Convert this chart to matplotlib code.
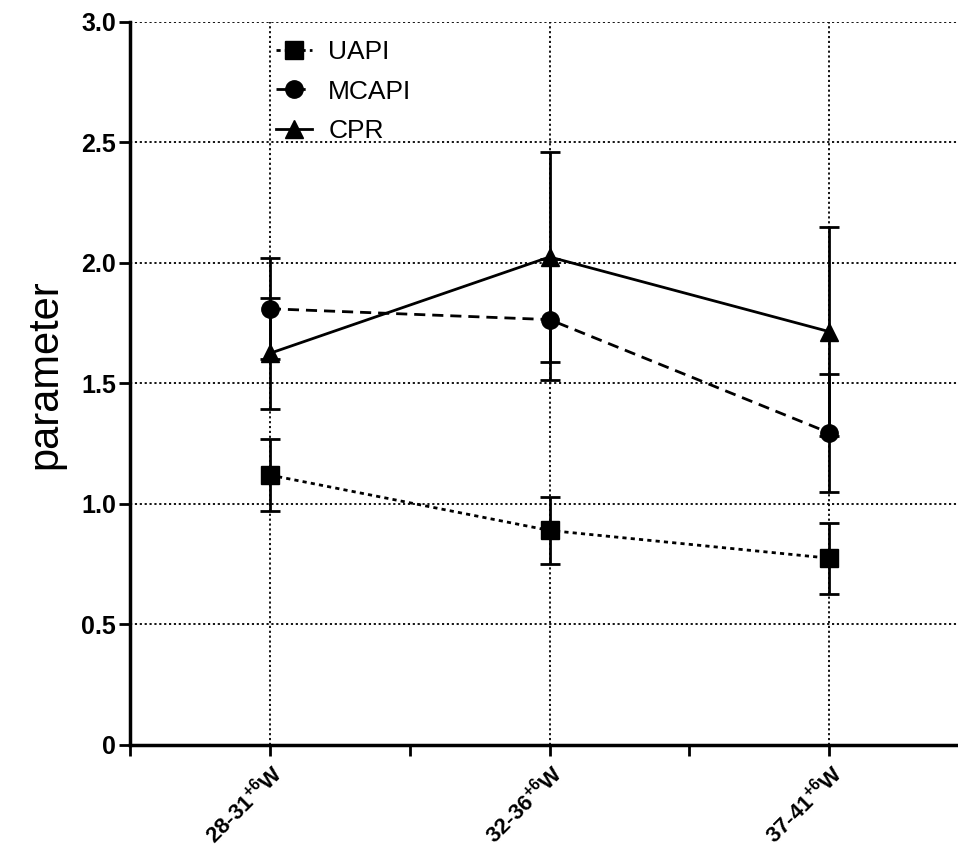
import matplotlib
matplotlib.use("Agg")
import matplotlib.pyplot as plt
from matplotlib.lines import Line2D
from matplotlib.ticker import FixedLocator

# ============================================================
# DATA
# ============================================================

groups = ["28-31", "32-36", "37-41"]
x_pos = [1, 2, 3]

uapi_mean = [1.12, 0.89, 0.775]
uapi_err = [0.148, 0.14, 0.148]

mcapi_mean = [1.81, 1.765, 1.295]
mcapi_err = [0.21, 0.25, 0.245]

cpr_mean = [1.625, 2.025, 1.715]
cpr_err = [0.23, 0.435, 0.435]

y_ticks = [0, 0.5, 1.0, 1.5, 2.0, 2.5, 3.0]
y_tick_labels = ["0", "0.5", "1.0", "1.5", "2.0", "2.5", "3.0"]

# ============================================================
# STYLE
# ============================================================

plt.rcParams["font.family"] = ["Liberation Sans", "DejaVu Sans"]
plt.rcParams["mathtext.fontset"] = "custom"
plt.rcParams["mathtext.rm"] = "Liberation Sans:bold"
plt.rcParams["mathtext.it"] = "Liberation Sans:bold"
plt.rcParams["mathtext.bf"] = "Liberation Sans:bold"

fig = plt.figure(figsize=(9.58, 8.55), dpi=100)
ax = fig.add_axes([0.1357, 0.1287, 0.8643, 0.8456])

lw = 2.0
ms = 12.5
styles = {
    "UAPI": ((0, (1.5, 1.5)), "s"),
    "MCAPI": ((0, (4, 2.5)), "o"),
    "CPR": ("-", "^"),
}
common = dict(color="black", linewidth=lw, elinewidth=lw, capsize=7.5,
              capthick=lw, markersize=ms, zorder=3)

ax.errorbar(x_pos, uapi_mean, yerr=uapi_err, linestyle=styles["UAPI"][0],
            marker=styles["UAPI"][1], **common)
ax.errorbar(x_pos, mcapi_mean, yerr=mcapi_err, linestyle=styles["MCAPI"][0],
            marker=styles["MCAPI"][1], **common)
ax.errorbar(x_pos, cpr_mean, yerr=cpr_err, linestyle=styles["CPR"][0],
            marker=styles["CPR"][1], **common)

# ============================================================
# AXES
# ============================================================

ax.set_xlim(0.5, 3.46)
ax.set_ylim(0, 3.0)

ax.set_yticks(y_ticks)
ax.set_yticklabels(y_tick_labels, fontsize=18, fontweight="bold")

ax.set_xticks(x_pos)
ax.set_xticklabels([g + r"$^{+6}$W" for g in groups], fontsize=16,
                   fontweight="bold", rotation=45, ha="right",
                   rotation_mode="anchor")
ax.xaxis.set_minor_locator(FixedLocator([0.5, 1.5, 2.5, 3.5]))

ax.tick_params(axis="both", which="both", direction="out", length=8,
               width=2, color="black")
ax.tick_params(axis="x", which="major", pad=3)
ax.tick_params(axis="y", which="major", pad=2)

for s in ["top", "right"]:
    ax.spines[s].set_visible(False)
for s in ["left", "bottom"]:
    ax.spines[s].set_linewidth(2.5)

# dotted grid
for y in y_ticks[1:]:
    ax.axhline(y, color="black", linestyle=(0, (1.2, 1.5)), linewidth=1.3,
               zorder=1)
for x in x_pos:
    ax.axvline(x, color="black", linestyle=(0, (1.2, 1.5)), linewidth=1.3,
               zorder=1)

ax.set_ylabel("parameter", fontsize=30)
ax.yaxis.set_label_coords(-0.078, 0.513)

# legend without error bars
handles = [Line2D([], [], color="black", linewidth=lw, linestyle=styles[k][0],
                  marker=styles[k][1], markersize=ms) for k in styles]
leg = ax.legend(handles, list(styles.keys()), loc="upper left",
                bbox_to_anchor=(0.163, 0.99), frameon=False, fontsize=19,
                handlelength=1.4, handletextpad=0.6, labelspacing=0.6,
                borderaxespad=0)

fig.savefig("out.png", dpi=100)
